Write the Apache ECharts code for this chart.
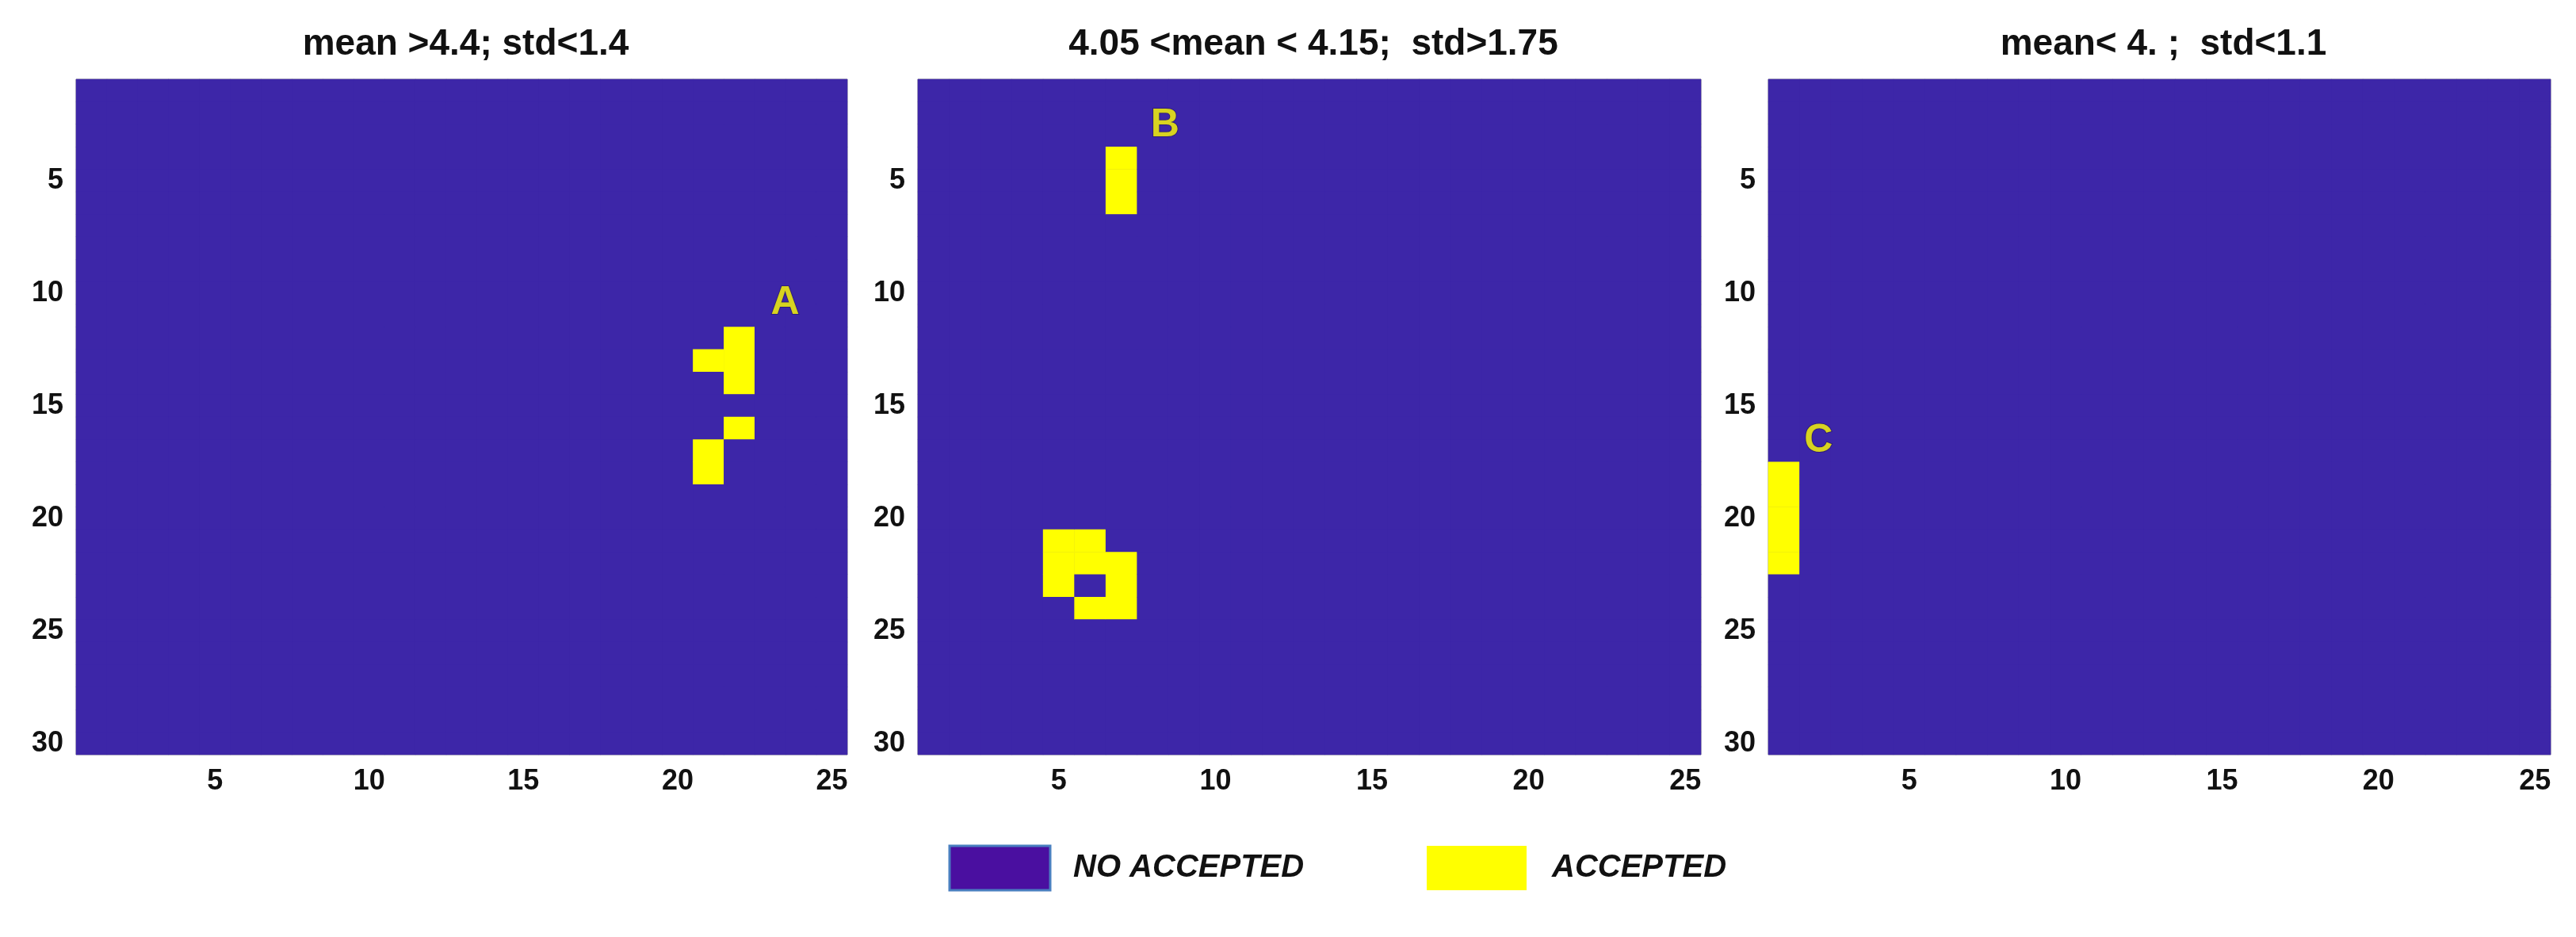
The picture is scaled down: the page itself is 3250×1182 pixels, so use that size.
<!DOCTYPE html>
<html><head><meta charset="utf-8">
<script src="https://cdn.jsdelivr.net/npm/echarts@6/dist/echarts.min.js"></script>
<style>html,body{margin:0;padding:0;background:#fff}#c{width:3250px;height:1182px}</style>
</head><body><div id="c"></div>
<script>
const nCols = 25, nRows = 30;
const titles = ['mean >4.4; std<1.4', '4.05 <mean < 4.15;  std>1.75', 'mean< 4. ;  std<1.1'];
// accepted cells [column, row] (1-based)
const acceptedA = [[22,12],[22,13],[22,14],[21,13],[22,16],[21,17],[21,18]];
const acceptedB = [[7,4],[7,5],[7,6],[5,21],[5,22],[5,23],[6,21],[6,22],[6,24],[7,22],[7,23],[7,24]];
const acceptedC = [[1,18],[1,19],[1,20],[1,21],[1,22]];
const markLabels = [['A',24,10],['B',9,2],['C',2,17]];
const labelOffsets = [[-20,12],[-24,16],[4,-12]];
const legendNames = ['NO ACCEPTED','ACCEPTED'];
const BLUE = '#3d26a8', YEL = '#ffff00';

const xCats = Array.from({length:nCols},(_,i)=>String(i+1));
const yCats = Array.from({length:nRows},(_,i)=>String(i+1));
const lefts = [96,1158,2231], widths = [973,988,987];
const sets = [acceptedA, acceptedB, acceptedC];
const font = '"Liberation Sans", Arial, sans-serif';
const grid=[],xAxis=[],yAxis=[],series=[],title=[];
const tickShow = (i)=> (i+1)%5===0;
for (let p=0;p<3;p++){
  grid.push({left:lefts[p],top:100,width:widths[p],height:852,show:true,borderColor:'#888',borderWidth:1,backgroundColor:BLUE});
  xAxis.push({type:'category',gridIndex:p,data:xCats,position:'bottom',
    axisLine:{show:false},axisTick:{show:true,inside:true,alignWithLabel:true,interval:tickShow,length:10,lineStyle:{color:'#555'}},
    axisLabel:{interval:tickShow,color:'#111',fontWeight:'bold',fontSize:36,fontFamily:font,margin:16},splitLine:{show:false}});
  yAxis.push({type:'category',gridIndex:p,data:yCats,inverse:true,
    axisLine:{show:false},axisTick:{show:true,inside:true,alignWithLabel:true,interval:tickShow,length:10,lineStyle:{color:'#555'}},
    axisLabel:{interval:tickShow,color:'#111',fontWeight:'bold',fontSize:36,fontFamily:font,margin:16},splitLine:{show:false}});
  const acc = new Set(sets[p].map(c=>c[0]+','+c[1]));
  const data=[];
  for(let c=1;c<=nCols;c++)for(let r=1;r<=nRows;r++)data.push([c-1,r-1,acc.has(c+','+r)?1:0]);
  series.push({type:'heatmap',xAxisIndex:p,yAxisIndex:p,data:data,encode:{x:0,y:1,value:2}});
  const m = markLabels[p];
  series.push({type:'scatter',xAxisIndex:p,yAxisIndex:p,symbolSize:1,itemStyle:{color:'rgba(0,0,0,0)'},
    data:[[m[1]-1,m[2]-1]],label:{show:true,formatter:m[0],position:'inside',offset:labelOffsets[p],color:YEL,fontSize:50,fontWeight:'bold',fontFamily:font,textBorderColor:'#2a1a70',textBorderWidth:2},z:5});
  title.push({text:titles[p],left:lefts[p]+widths[p]/2,top:28,textAlign:'center',
    textStyle:{fontSize:46,fontWeight:'bold',color:'#111',fontFamily:font}});
}
const chart = echarts.init(document.getElementById('c'));
chart.setOption({
  animation:false,
  title:title,grid:grid,xAxis:xAxis,yAxis:yAxis,
  visualMap:{show:false,type:'piecewise',seriesIndex:[0,2,4],dimension:2,pieces:[{value:0,color:BLUE},{value:1,color:YEL}]},
  series:series,
  graphic:[
    {type:'rect',shape:{x:1198,y:1067,width:127,height:56},style:{fill:'#4a0fa0',stroke:'#4a7fc0',lineWidth:3}},
    {type:'text',x:1354,y:1095,style:{text:legendNames[0],fill:'#111',font:'italic bold 40px '+font,verticalAlign:'middle'}},
    {type:'rect',shape:{x:1800,y:1067,width:126,height:56},style:{fill:YEL}},
    {type:'text',x:1958,y:1095,style:{text:legendNames[1],fill:'#111',font:'italic bold 40px '+font,verticalAlign:'middle'}}
  ]
});
</script></body></html>
